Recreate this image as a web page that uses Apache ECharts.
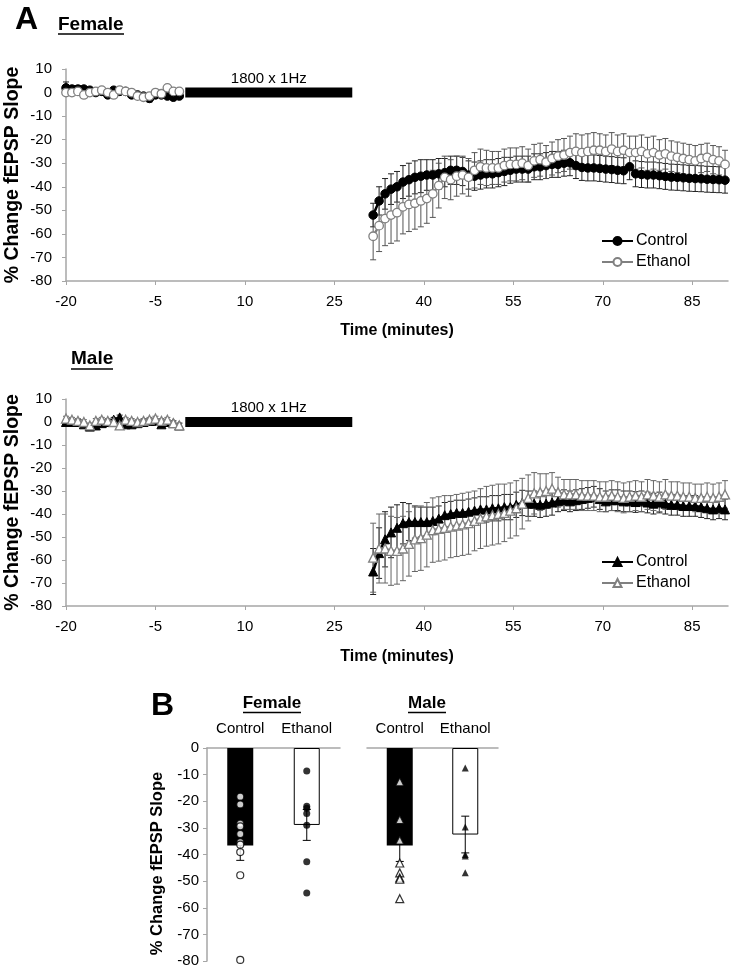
<!DOCTYPE html>
<html><head><meta charset="utf-8">
<script src="https://cdn.jsdelivr.net/npm/echarts@6/dist/echarts.min.js"></script>
<style>html,body{margin:0;padding:0;background:#fff}#c{width:735px;height:973px}</style>
</head><body><div id="c"></div>
<script>
// ---------- DATA ----------
const baseTimes = [-20,-19,-18,-17,-16,-15,-14,-13,-12,-11,-10,-9,-8,-7,-6,-5,-4,-3,-2,-1];
const postTimes = [31.5,32.5,33.5,34.5,35.5,36.5,37.5,38.5,39.5,40.5,41.5,42.5,43.5,44.5,45.5,46.5,47.5,48.5,49.5,50.5,
  51.5,52.5,53.5,54.5,55.5,56.5,57.5,58.5,59.5,60.5,61.5,62.5,63.5,64.5,65.5,66.5,67.5,68.5,69.5,70.5,
  71.5,72.5,73.5,74.5,75.5,76.5,77.5,78.5,79.5,80.5,81.5,82.5,83.5,84.5,85.5,86.5,87.5,88.5,89.5,90.5];
const xTickValues = [-20,-5,10,25,40,55,70,85];
const stimStart = 0, stimEnd = 28, stimLabel = '1800 x 1Hz';

// Female time course
const fCtrlBase = [2,1.5,1.5,1.5,1,0,0.5,-1,1,0.5,0.5,-1,-1,-1.5,-2.5,-1,-1,-1.5,-2,-1.5];
const fCtrlBaseSem = [2.5,1.5,1.5,1,1,1,1,1,1,1,1,1,1,1,1.5,1,1,1,1,1];
const fEthBase = [0,0,0.5,-1,0,0.5,1,0,-1,1,0.5,0,-1.5,-2,-1.5,0,-0.5,2,0.5,0.5];
const fEthBaseSem = [1,1,1,1,1,1,1,1,1,1,1,1,1,1,1,1,1,1,1,1];
const fCtrlPost = [-52,-46,-43,-41,-40,-38,-37,-36,-35.5,-35,-35,-34.5,-34,-33,-33,-33.5,-35,-35.5,-35,-34.5,
  -34.5,-34,-33.5,-33,-32.5,-32.5,-32.5,-31.5,-31.5,-31,-30.5,-30.5,-30,-29.8,-31,-31.8,-32,-32,-32.2,-32.5,
  -32.7,-33,-33.2,-31.5,-34.5,-34.8,-35,-35,-35.3,-35.6,-35.9,-36,-36.2,-36.4,-36.5,-36.6,-36.8,-36.9,-37,-37.2];
const fCtrlPostSem = [5,6,6.5,6.5,6.5,7,7,7,7,6.5,6.5,6.5,6,6,6,6,6,6,6,6,
  6,6,6,5.5,5.5,5.5,5.5,5.5,5.5,5.5,5.5,5.5,5.5,5.5,5.5,5.5,5.5,5.5,5.5,5.5,
  5.5,5.5,5.5,5.5,5.5,5.5,5.5,5.5,5.5,5.5,5.5,5.5,5.5,5.5,5.5,5.5,5.5,5.5,5.5,5.5];
const fEthPost = [-61,-56.5,-53.5,-52,-51,-48.5,-47.5,-47,-46,-45,-43,-39.5,-36,-37,-35.5,-35,-36,-33,-31.5,-32,
  -32,-32,-31,-30.5,-30.5,-30,-31,-29,-28.5,-29.5,-28,-27,-26.5,-25.5,-25,-25.5,-25,-24.5,-24.5,-25,
  -24,-25,-24.5,-25.5,-25.5,-25,-26,-25.5,-26.5,-26,-27,-27.5,-28,-28.5,-29,-28,-27.5,-28.5,-29,-30.5];
const fEthPostSem = [10,11,11.5,12,12,11.5,11.5,11,11,10.5,10,9.5,9,8.5,8.5,8,8,7.5,7.5,7.5,
  7,7,7,7,7,7,7,7,7,7,7,7,7,7,7.5,7.5,7.5,7.5,7,7,
  7,7,7,7,7,7,7,7,6.5,6.5,6.5,6.5,6.5,6.5,6.5,6,6,6,6,6];

// Male time course
const mCtrlBase = [0,0,0,-1,-2,-1.5,-0.5,0,1,2,-1,-1,-0.5,0,0.5,0.5,-1,0,-0.5,-1.5];
const mCtrlBaseSem = [1,1,1,1,1,1,1,1,1,1,1,1,1,1,1,1,1,1,1,1];
const mEthBase = [1.5,1,0.5,0,-1.5,0.5,1,0.5,0,-1.5,1,0.5,0,0.5,1,1.5,0.5,1,-0.5,-1.5];
const mEthBaseSem = [1,1,1,1,1,1,1,1,1,1,1,1,1,1,1,1,1,1,1,1];
const mCtrlPost = [-65,-57,-51,-48,-46,-44,-43.5,-43.5,-43.5,-43.5,-43,-42,-40.5,-40,-39.5,-39.5,-39,-38.5,-38,-38,
  -37.5,-37.5,-37,-37,-36,-35.2,-35.5,-35.5,-36,-35.5,-35,-34.5,-34,-34.5,-34,-33.5,-33,-32.5,-33.5,-34.5,
  -34,-34,-34.5,-34.5,-34.8,-34.5,-35,-35.5,-35,-35.5,-36,-36,-36.5,-36.5,-36.5,-37,-37.5,-38,-37.5,-38];
const mCtrlPostSem = [10,11,12,11,10,9,8,7,6.5,6.5,6,5.5,5.5,5.5,5.5,5.5,5.5,5.5,5.5,5.5,
  5.5,5.5,5.5,5.5,5.5,5.5,5.5,5.5,5.5,5.5,5.5,4.5,4.5,4.5,4.5,4.5,4.5,4.5,4.5,4.5,
  4.5,4.5,4.5,4.5,4.5,4.5,4.5,4.5,4.5,4.5,4.5,4.5,4.5,4.5,4.5,4.5,4.5,4.5,4.5,4.5];
const mEthPost = [-59,-55,-55,-56,-56,-55,-53,-51,-50.5,-49,-47,-46.5,-46,-45.5,-45,-44.5,-44,-43,-42,-41,
  -40.5,-40,-39.5,-38.5,-37.5,-35.5,-33,-31,-30.5,-30,-29,-30.5,-31.5,-31.5,-31.5,-32,-32,-32,-32.5,-32.5,
  -32,-32.5,-33,-32.5,-32,-32.5,-31.5,-32,-32.5,-31.5,-32,-32,-32.5,-32.5,-33,-33,-32.5,-33,-32.5,-31.5];
const mEthPostSem = [15,15,15,15,14.5,14,14,14,14,14,14,14,14,13.5,13.5,13.5,13.5,13,13,13,
  13,13,12.5,12,12,11,10,9,8,7.5,7,6.5,6.5,6.5,6.5,6.5,6.5,6.5,6.5,6.5,
  6.5,6.5,6.5,6.5,6.5,6.5,6.5,6.5,6.5,6.5,6,6,6,6,6,6,6,6,6,6];

// Panel B
const barCategories = ['Control','Ethanol'];
const fBarMeans = [-36.6,-28.9];
const fBarSems = [5.6,5.8];
const mBarMeans = [-36.6,-32.5];
const mBarSems = [6.0,6.9];
const fCtrlPts = [-18.3,-21.2,-28.4,-29.4,-32.3,-35.4,-36.3,-39.1,-47.8,-79.6];
const fEthPts = [-8.6,-21.9,-22.6,-24.6,-29,-42.7,-54.5];
const mCtrlPts = [-12.7,-26.9,-34.6,-43.2,-46.9,-48.8,-49.3,-56.6];
const mEthPts = [-7.5,-29.7,-40,-40.6,-46.9];
const yTitle = '% Change fEPSP Slope';

// ---------- CHART ----------
const FONT = '"Liberation Sans", Arial, sans-serif';
const AXC = '#a6a6a6';
const chart = echarts.init(document.getElementById('c'));

const pairs = (t, v) => t.map((x, i) => [x, v[i]]);
const triples = (t, v, e) => t.map((x, i) => [x, v[i], e[i]]);

function errRender(color, cap) {
  return function (params, api) {
    const x = api.value(0), y = api.value(1), e = api.value(2);
    const p1 = api.coord([x, y + e]), p2 = api.coord([x, y - e]);
    const st = { stroke: color, lineWidth: 1 };
    return { type: 'group', children: [
      { type: 'line', shape: { x1: p1[0], y1: p1[1], x2: p2[0], y2: p2[1] }, style: st },
      { type: 'line', shape: { x1: p1[0] - cap, y1: p1[1], x2: p1[0] + cap, y2: p1[1] }, style: st },
      { type: 'line', shape: { x1: p2[0] - cap, y1: p2[1], x2: p2[0] + cap, y2: p2[1] }, style: st }
    ]};
  };
}
function errSeries(ax, data, color, cap, z) {
  return { type: 'custom', xAxisIndex: ax, yAxisIndex: ax, data: data, z: z || 2,
    renderItem: errRender(color, cap), encode: { x: 0, y: 1 }, silent: true };
}
function stimSeries(ax) {
  return { type: 'custom', xAxisIndex: ax, yAxisIndex: ax, z: 6, silent: true,
    data: [[stimStart, stimEnd]], encode: { x: [0, 1] },
    renderItem: function (params, api) {
      const a = api.coord([api.value(0), 0]), b = api.coord([api.value(1), 0]);
      return { type: 'group', children: [
        { type: 'rect', shape: { x: a[0], y: a[1] - 5, width: b[0] - a[0], height: 10 }, style: { fill: '#000' } },
        { type: 'text', style: { text: stimLabel, x: (a[0] + b[0]) / 2, y: a[1] - 14, align: 'center',
          verticalAlign: 'middle', fontSize: 15, fontFamily: FONT, fill: '#000' } }
      ]};
    } };
}
function lineSeries(ax, name, data, dark, symbol, z) {
  const col = dark ? '#000' : '#808080';
  return { type: 'line', name: name, xAxisIndex: ax, yAxisIndex: ax, data: data, z: z,
    symbol: symbol, symbolSize: symbol === 'triangle' ? 9 : 8.5, showSymbol: true,
    lineStyle: { color: col, width: 2.5 },
    itemStyle: dark ? { color: '#000', borderColor: '#000', borderWidth: 1 }
                    : { color: '#fff', borderColor: '#808080', borderWidth: 1.3 },
    emphasis: { disabled: true }, animation: false };
}
function timeXAxis(gi, gap) {
  return { gridIndex: gi, type: 'value', min: -20, max: 91, interval: 15,
    name: 'Time (minutes)', nameLocation: 'middle', nameGap: gap, nameMoveOverlap: false,
    nameTextStyle: { fontSize: 16, fontWeight: 'bold', fontFamily: FONT, color: '#000' },
    axisLine: { onZero: false, lineStyle: { color: AXC, width: 1.5 } },
    axisTick: { customValues: xTickValues, length: 4, lineStyle: { color: AXC } },
    axisLabel: { customValues: xTickValues, fontSize: 15, fontFamily: FONT, color: '#000', margin: 13 },
    splitLine: { show: false } };
}
function timeYAxis(gi) {
  return { gridIndex: gi, type: 'value', min: -80, max: 10, interval: 10,
    name: yTitle, nameLocation: 'middle', nameGap: 43, nameRotate: 90, nameMoveOverlap: false,
    nameTextStyle: { fontSize: 19.5, fontWeight: 'bold', fontFamily: FONT, color: '#000' },
    axisLine: { show: true, onZero: false, lineStyle: { color: AXC, width: 1.5 } },
    axisTick: { show: true, length: 4, lineStyle: { color: AXC } },
    axisLabel: { fontSize: 15, fontFamily: FONT, color: '#000', margin: 14 },
    splitLine: { show: false } };
}
function barXAxis(gi) {
  return { gridIndex: gi, type: 'category', data: barCategories, position: 'top',
    axisLine: { onZero: false, lineStyle: { color: AXC, width: 1.5 } },
    axisTick: { inside: true, length: 5, lineStyle: { color: AXC } },
    axisLabel: { interval: 0, hideOverlap: false, fontSize: 15, fontFamily: FONT, color: '#000', margin: 12 } };
}
function barYAxis(gi, show) {
  return { gridIndex: gi, type: 'value', min: -80, max: 0, interval: 10, show: show,
    name: show ? yTitle : '', nameLocation: 'middle', nameGap: 41, nameRotate: 90, nameMoveOverlap: false,
    nameTextStyle: { fontSize: 16.5, fontWeight: 'bold', fontFamily: FONT, color: '#000', padding: [0, 18, 0, 0] },
    axisLine: { show: true, onZero: false, lineStyle: { color: AXC, width: 1.5 } },
    axisTick: { show: true, length: 4, lineStyle: { color: AXC } },
    axisLabel: { fontSize: 15, fontFamily: FONT, color: '#000', margin: 8 },
    splitLine: { show: false } };
}
function ptsSeries(ax, cat, vals, symbol, filled, size) {
  return { type: 'scatter', xAxisIndex: ax, yAxisIndex: ax, z: 5, symbol: symbol, symbolSize: size,
    data: vals.map(v => [cat, v]),
    itemStyle: filled ? { color: '#000' } : { color: '#fff', borderColor: '#000', borderWidth: 1.2 },
    emphasis: { disabled: true } };
}
function barSeries(ax, means) {
  return { type: 'bar', xAxisIndex: ax, yAxisIndex: ax, barWidth: 26, z: 1,
    data: [
      { value: means[0], itemStyle: { color: '#000' } },
      { value: means[1], itemStyle: { color: '#fff', borderColor: '#000', borderWidth: 1 } }
    ], emphasis: { disabled: true } };
}

const option = {
  animation: false,
  backgroundColor: '#fff',
  textStyle: { fontFamily: FONT },
  grid: [
    { left: 66, top: 69, width: 662, height: 212, outerBoundsMode: 'none' },
    { left: 66, top: 399, width: 662, height: 207, outerBoundsMode: 'none' },
    { left: 207, top: 748, width: 133, height: 213, outerBoundsMode: 'none' },
    { left: 367, top: 748, width: 131, height: 213, outerBoundsMode: 'none' }
  ],
  xAxis: [timeXAxis(0, 42), timeXAxis(1, 43), barXAxis(2), barXAxis(3)],
  yAxis: [timeYAxis(0), timeYAxis(1), barYAxis(2, true), barYAxis(3, false)],
  legend: [
    { data: ['Control', 'Ethanol'], orient: 'vertical', left: 601, top: 233, itemWidth: 31, itemHeight: 10,
      itemGap: 5, padding: 0, selectedMode: false,
      textStyle: { fontSize: 16, fontFamily: FONT, color: '#000', padding: [0, 0, 0, -2] } },
    { data: ['Control ', 'Ethanol '], orient: 'vertical', left: 601, top: 554, itemWidth: 31, itemHeight: 10,
      itemGap: 5, padding: 0, selectedMode: false,
      textStyle: { fontSize: 16, fontFamily: FONT, color: '#000', padding: [0, 0, 0, -2] } }
  ],
  graphic: [
    { type: 'text', left: 15, top: 4, style: { text: 'A', fontSize: 32, fontWeight: 'bold', fontFamily: FONT, fill: '#000' } },
    { type: 'text', left: 58, top: 15, style: { text: 'Female', fontSize: 19, fontWeight: 'bold', fontFamily: FONT, fill: '#000' } },
    { type: 'line', shape: { x1: 58, y1: 34, x2: 124, y2: 34 }, style: { stroke: '#000', lineWidth: 1.5 } },
    { type: 'text', left: 71, top: 349, style: { text: 'Male', fontSize: 19, fontWeight: 'bold', fontFamily: FONT, fill: '#000' } },
    { type: 'line', shape: { x1: 71, y1: 369, x2: 113, y2: 369 }, style: { stroke: '#000', lineWidth: 1.5 } },
    { type: 'text', left: 151, top: 690, style: { text: 'B', fontSize: 32, fontWeight: 'bold', fontFamily: FONT, fill: '#000' } },
    { type: 'text', x: 272, y: 703, style: { text: 'Female', fontSize: 17, fontWeight: 'bold', fontFamily: FONT, fill: '#000', align: 'center', verticalAlign: 'middle' } },
    { type: 'line', shape: { x1: 243, y1: 712.5, x2: 301, y2: 712.5 }, style: { stroke: '#000', lineWidth: 1.5 } },
    { type: 'text', x: 427, y: 703, style: { text: 'Male', fontSize: 17, fontWeight: 'bold', fontFamily: FONT, fill: '#000', align: 'center', verticalAlign: 'middle' } },
    { type: 'line', shape: { x1: 408, y1: 712.5, x2: 446, y2: 712.5 }, style: { stroke: '#000', lineWidth: 1.5 } }
  ],
  series: [
    // Female time course
    errSeries(0, triples(baseTimes, fCtrlBase, fCtrlBaseSem), '#222', 3, 2),
    errSeries(0, triples(postTimes, fCtrlPost, fCtrlPostSem), '#222', 3, 2),
    errSeries(0, triples(baseTimes, fEthBase, fEthBaseSem), '#555', 3, 2),
    errSeries(0, triples(postTimes, fEthPost, fEthPostSem), '#555', 3, 2),
    lineSeries(0, 'Control', pairs(baseTimes, fCtrlBase), true, 'circle', 3),
    lineSeries(0, 'Control', pairs(postTimes, fCtrlPost), true, 'circle', 3),
    lineSeries(0, 'Ethanol', pairs(baseTimes, fEthBase), false, 'circle', 4),
    lineSeries(0, 'Ethanol', pairs(postTimes, fEthPost), false, 'circle', 4),
    stimSeries(0),
    // Male time course
    errSeries(1, triples(baseTimes, mCtrlBase, mCtrlBaseSem), '#222', 3, 2),
    errSeries(1, triples(postTimes, mCtrlPost, mCtrlPostSem), '#222', 3, 2),
    errSeries(1, triples(baseTimes, mEthBase, mEthBaseSem), '#666', 3, 2),
    errSeries(1, triples(postTimes, mEthPost, mEthPostSem), '#666', 3, 2),
    lineSeries(1, 'Control ', pairs(baseTimes, mCtrlBase), true, 'triangle', 3),
    lineSeries(1, 'Control ', pairs(postTimes, mCtrlPost), true, 'triangle', 3),
    lineSeries(1, 'Ethanol ', pairs(baseTimes, mEthBase), false, 'triangle', 4),
    lineSeries(1, 'Ethanol ', pairs(postTimes, mEthPost), false, 'triangle', 4),
    stimSeries(1),
    // Panel B female
    barSeries(2, fBarMeans),
    errSeries(2, [[0, fBarMeans[0], fBarSems[0]], [1, fBarMeans[1], fBarSems[1]]], '#000', 4, 3),
    ptsSeries(2, 0, fCtrlPts, 'circle', false, 7),
    ptsSeries(2, 1, fEthPts, 'circle', true, 7),
    // Panel B male
    barSeries(3, mBarMeans),
    errSeries(3, [[0, mBarMeans[0], mBarSems[0]], [1, mBarMeans[1], mBarSems[1]]], '#000', 4, 3),
    ptsSeries(3, 0, mCtrlPts, 'triangle', false, 8),
    ptsSeries(3, 1, mEthPts, 'triangle', true, 7)
  ]
};
chart.setOption(option);
</script>
</body></html>
